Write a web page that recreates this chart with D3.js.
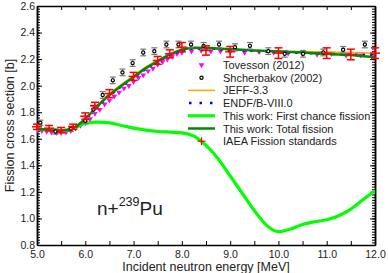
<!DOCTYPE html>
<html>
<head>
<meta charset="utf-8">
<script src="https://cdn.jsdelivr.net/npm/d3@7"></script>
<style>
  body { margin: 0; background: white; }
  text { font-family: "Liberation Sans", Arial, sans-serif; }
</style>
</head>
<body>
<div id="wrapper"></div>
<script>
// energies for the model curves [MeV]
const curveE = [5.0, 5.25, 5.5, 5.75, 6.0, 6.25, 6.5, 6.75, 7.0, 7.25, 7.5, 7.75, 8.0, 8.25, 8.5, 8.75, 9.0, 9.25, 9.5, 9.75, 10.0, 10.25, 10.5, 10.75, 11.0, 11.25, 11.5, 11.75, 12.0];
const totalFission = [1.675, 1.665, 1.66, 1.68, 1.75, 1.845, 1.93, 2.0, 2.065, 2.13, 2.185, 2.235, 2.27, 2.285, 2.285, 2.28, 2.275, 2.27, 2.265, 2.262, 2.258, 2.254, 2.25, 2.245, 2.24, 2.235, 2.23, 2.222, 2.215];
const firstChance = [1.675, 1.665, 1.66, 1.68, 1.715, 1.725, 1.72, 1.70, 1.68, 1.665, 1.655, 1.65, 1.645, 1.62, 1.55, 1.45, 1.32, 1.19, 1.06, 0.95, 0.90, 0.92, 0.955, 0.975, 0.99, 1.02, 1.07, 1.14, 1.21];
const jeff33 = [1.68, 1.67, 1.665, 1.685, 1.755, 1.85, 1.94, 2.01, 2.075, 2.14, 2.19, 2.235, 2.27, 2.28, 2.28, 2.278, 2.272, 2.268, 2.265, 2.263, 2.26, 2.258, 2.256, 2.255, 2.254, 2.252, 2.25, 2.248, 2.245];
const endf8 = [1.675, 1.665, 1.658, 1.678, 1.745, 1.84, 1.925, 1.995, 2.06, 2.125, 2.18, 2.23, 2.265, 2.28, 2.28, 2.276, 2.27, 2.266, 2.262, 2.258, 2.255, 2.25, 2.247, 2.243, 2.24, 2.237, 2.234, 2.232, 2.23];

// Tovesson (2012)
const tovE = [5.0, 5.1, 5.2, 5.3, 5.4, 5.5, 5.6, 5.7, 5.8, 5.9, 6.0, 6.1, 6.2, 6.3, 6.4, 6.5, 6.6, 6.7, 6.8, 6.9, 7.0, 7.1, 7.2, 7.3, 7.4, 7.5, 7.6, 7.7, 7.8, 7.9, 8.0, 8.2, 8.4, 8.6, 8.8, 9.0, 9.3, 9.6, 9.9, 10.2, 10.5, 10.8, 11.1, 11.4, 11.7, 12.0];
const tovXS = [1.66, 1.66, 1.655, 1.65, 1.645, 1.645, 1.65, 1.66, 1.68, 1.70, 1.72, 1.75, 1.79, 1.82, 1.86, 1.89, 1.92, 1.95, 1.98, 2.0, 2.03, 2.06, 2.08, 2.11, 2.13, 2.16, 2.18, 2.2, 2.22, 2.24, 2.25, 2.26, 2.265, 2.26, 2.26, 2.255, 2.25, 2.255, 2.25, 2.245, 2.24, 2.235, 2.24, 2.23, 2.23, 2.23];

// Shcherbakov (2002)
const shcE = [5.07, 5.38, 5.7, 6.0, 6.17, 6.36, 6.57, 6.77, 6.98, 7.2, 7.43, 7.68, 7.93, 8.19, 8.45, 8.77, 9.1, 9.41, 9.79, 10.13, 10.51, 10.93, 11.34, 11.79];
const shcXS = [1.72, 1.655, 1.675, 1.735, 1.82, 1.93, 2.04, 2.10, 2.17, 2.25, 2.26, 2.31, 2.31, 2.31, 2.3, 2.31, 2.29, 2.30, 2.26, 2.24, 2.24, 2.25, 2.27, 2.31];
const shcErr = [0.02, 0.02, 0.02, 0.02, 0.025, 0.025, 0.025, 0.025, 0.025, 0.025, 0.025, 0.025, 0.025, 0.025, 0.025, 0.025, 0.025, 0.025, 0.025, 0.025, 0.025, 0.025, 0.025, 0.025];

// IAEA fission standards
const iaeaE = [5.0, 5.25, 5.5, 5.75, 6.0, 6.2, 6.5, 7.0, 7.5, 7.75, 8.0, 8.5, 9.0, 10.0, 11.0, 11.5, 12.0];
const iaeaXS = [1.69, 1.68, 1.665, 1.69, 1.77, 1.85, 1.94, 2.07, 2.19, 2.24, 2.29, 2.265, 2.255, 2.245, 2.245, 2.235, 2.245];
const iaeaErr = [0.02, 0.02, 0.02, 0.02, 0.025, 0.025, 0.03, 0.03, 0.03, 0.03, 0.035, 0.035, 0.04, 0.04, 0.04, 0.04, 0.04];

const legendLabels = ["Tovesson (2012)", "Shcherbakov (2002)", "JEFF-3.3", "ENDF/B-VIII.0", "This work: First chance fission", "This work: Total fission", "IAEA Fission standards"];

const xTicks = [5, 6, 7, 8, 9, 10, 11, 12];
const yTicks = [0.8, 1.0, 1.2, 1.4, 1.6, 1.8, 2.0, 2.2, 2.4, 2.6];

const dimension = {
    width: 388,
    height: 273,
    margin: { top: 6, right: 13, bottom: 28, left: 37 }
};
dimension.boundedWidth  = dimension.width  - dimension.margin.left - dimension.margin.right;
dimension.boundedHeight = dimension.height - dimension.margin.top  - dimension.margin.bottom;

const svg = d3.select("#wrapper")
    .append("svg")
    .attr("width", dimension.width)
    .attr("height", dimension.height);

const g = svg.append("g")
    .attr("transform", "translate(" + dimension.margin.left + "," + dimension.margin.top + ")");

var x = d3.scaleLinear().domain([5, 12]).range([0, dimension.boundedWidth]);
var y = d3.scaleLinear().domain([0.8, 2.6]).range([dimension.boundedHeight, 0]);

g.append("clipPath").attr("id", "clip")
    .append("rect")
    .attr("width", dimension.boundedWidth)
    .attr("height", dimension.boundedHeight);

// axes, ticks pointing inward
function styleAxis(sel) {
    sel.selectAll("path").attr("stroke", "black").attr("stroke-width", 1.5);
    sel.selectAll("line").attr("stroke", "black").attr("stroke-width", 1);
    sel.selectAll("text").attr("font-size", 10.5).attr("fill", "#222");
}
const fmt = d3.format(".1f");

// bottom
g.append("g")
    .attr("transform", "translate(0," + dimension.boundedHeight + ")")
    .call(d3.axisBottom(x).tickValues(d3.range(5, 12.01, 0.5)).tickSize(-4).tickSizeOuter(0)
        .tickFormat(d => Number.isInteger(d) ? fmt(d) : ""))
    .call(styleAxis)
    .call(s => s.selectAll("text").attr("dy", "0.9em").attr("y", 4));
// top
g.append("g")
    .call(d3.axisTop(x).tickValues(d3.range(5, 12.01, 0.5)).tickSize(-4).tickSizeOuter(0).tickFormat(""))
    .call(styleAxis);
// left
g.append("g")
    .call(d3.axisLeft(y).tickValues(yTicks).tickSize(-5).tickSizeOuter(0).tickFormat(fmt))
    .call(styleAxis)
    .call(s => s.selectAll("text").attr("x", -2));
g.append("g")
    .call(d3.axisLeft(y).tickValues(d3.range(0.8, 2.601, 0.02)).tickSize(-3).tickSizeOuter(0).tickFormat(""))
    .call(styleAxis);
// right
g.append("g")
    .attr("transform", "translate(" + dimension.boundedWidth + ",0)")
    .call(d3.axisRight(y).tickValues(yTicks).tickSize(-5).tickSizeOuter(0).tickFormat(""))
    .call(styleAxis);
g.append("g")
    .attr("transform", "translate(" + dimension.boundedWidth + ",0)")
    .call(d3.axisRight(y).tickValues(d3.range(0.8, 2.601, 0.02)).tickSize(-3).tickSizeOuter(0).tickFormat(""))
    .call(styleAxis);

// axis titles
svg.append("text")
    .attr("x", dimension.margin.left + dimension.boundedWidth / 2)
    .attr("y", 271)
    .attr("text-anchor", "middle")
    .attr("font-size", 12.5)
    .attr("fill", "#222")
    .text("Incident neutron energy [MeV]");
svg.append("text")
    .attr("transform", "translate(14," + (dimension.margin.top + dimension.boundedHeight / 2) + ") rotate(-90)")
    .attr("text-anchor", "middle")
    .attr("font-size", 12.5)
    .attr("fill", "#222")
    .text("Fission cross section [b]");

const plot = g.append("g").attr("clip-path", "url(#clip)");

// Tovesson triangles
const tri = d3.symbol().type(d3.symbolTriangle).size(14);
plot.append("g")
    .selectAll("path")
    .data(tovE.map((e, i) => ({ e: e, v: tovXS[i] })))
    .enter()
    .append("path")
    .attr("d", tri)
    .attr("transform", d => "translate(" + x(d.e) + "," + y(d.v) + ") rotate(180)")
    .attr("fill", "#ff00ff");

// model curves
const line = d3.line().x(d => x(d.e)).y(d => y(d.v)).curve(d3.curveMonotoneX);
function curveData(vals) { return curveE.map((e, i) => ({ e: e, v: vals[i] })); }

plot.append("path").datum(curveData(jeff33))
    .attr("d", line).attr("fill", "none").attr("stroke", "#ffa500").attr("stroke-width", 1.5);
plot.append("path").datum(curveData(endf8))
    .attr("d", line).attr("fill", "none").attr("stroke", "#0000ff").attr("stroke-width", 2.5)
    .attr("stroke-dasharray", "2.5,5");
plot.append("path").datum(curveData(firstChance))
    .attr("d", line).attr("fill", "none").attr("stroke", "#00ff00").attr("stroke-width", 3.2);
plot.append("path").datum(curveData(totalFission))
    .attr("d", line).attr("fill", "none").attr("stroke", "#008a00").attr("stroke-width", 2.5);

// Shcherbakov points with error bars
const shc = shcE.map((e, i) => ({ e: e, v: shcXS[i], err: shcErr[i] }));
const shcG = plot.append("g").selectAll("g").data(shc).enter().append("g");
shcG.append("line")
    .attr("x1", d => x(d.e)).attr("x2", d => x(d.e))
    .attr("y1", d => y(d.v - d.err)).attr("y2", d => y(d.v + d.err))
    .attr("stroke", "#777").attr("stroke-width", 1);
shcG.append("line")
    .attr("x1", d => x(d.e) - 3).attr("x2", d => x(d.e) + 3)
    .attr("y1", d => y(d.v - d.err)).attr("y2", d => y(d.v - d.err))
    .attr("stroke", "#777").attr("stroke-width", 1.2);
shcG.append("line")
    .attr("x1", d => x(d.e) - 3).attr("x2", d => x(d.e) + 3)
    .attr("y1", d => y(d.v + d.err)).attr("y2", d => y(d.v + d.err))
    .attr("stroke", "#777").attr("stroke-width", 1.2);
shcG.append("circle")
    .attr("cx", d => x(d.e)).attr("cy", d => y(d.v)).attr("r", 1.6)
    .attr("fill", "white").attr("stroke", "black").attr("stroke-width", 1.2);

// IAEA standards (not clipped)
const iaea = iaeaE.map((e, i) => ({ e: e, v: iaeaXS[i], err: iaeaErr[i] }));
const iaeaG = g.append("g").selectAll("g").data(iaea).enter().append("g")
    .attr("stroke", "#ff0000").attr("stroke-width", 1.5);
iaeaG.append("line")
    .attr("x1", d => x(d.e)).attr("x2", d => x(d.e))
    .attr("y1", d => y(d.v - d.err)).attr("y2", d => y(d.v + d.err));
iaeaG.append("line")
    .attr("x1", d => x(d.e) - 4).attr("x2", d => x(d.e) + 4)
    .attr("y1", d => y(d.v - d.err)).attr("y2", d => y(d.v - d.err));
iaeaG.append("line")
    .attr("x1", d => x(d.e) - 4).attr("x2", d => x(d.e) + 4)
    .attr("y1", d => y(d.v + d.err)).attr("y2", d => y(d.v + d.err));
iaeaG.append("line")
    .attr("x1", d => x(d.e) - 5).attr("x2", d => x(d.e) + 5)
    .attr("y1", d => y(d.v)).attr("y2", d => y(d.v));

// legend
const leg = svg.append("g").attr("transform", "translate(188,65)");
const rowH = 12.7;
leg.selectAll("text")
    .data(legendLabels)
    .enter()
    .append("text")
    .attr("x", 35)
    .attr("y", (d, i) => i * rowH + 4)
    .attr("font-size", 11)
    .attr("fill", "#222")
    .text(d => d);
leg.append("path").attr("d", tri).attr("transform", "translate(13.5,0) rotate(180)").attr("fill", "#ff00ff");
leg.append("circle").attr("cx", 13.5).attr("cy", rowH).attr("r", 1.6)
    .attr("fill", "white").attr("stroke", "black").attr("stroke-width", 1.2);
leg.append("line").attr("x1", 0).attr("x2", 27).attr("y1", 2 * rowH).attr("y2", 2 * rowH)
    .attr("stroke", "#ffa500").attr("stroke-width", 1.5);
leg.append("line").attr("x1", 1).attr("x2", 27).attr("y1", 3 * rowH).attr("y2", 3 * rowH)
    .attr("stroke", "#0000ff").attr("stroke-width", 2.5).attr("stroke-dasharray", "2.5,8");
leg.append("line").attr("x1", 0).attr("x2", 27).attr("y1", 4 * rowH).attr("y2", 4 * rowH)
    .attr("stroke", "#00ff00").attr("stroke-width", 3.2);
leg.append("line").attr("x1", 0).attr("x2", 27).attr("y1", 5 * rowH).attr("y2", 5 * rowH)
    .attr("stroke", "#008a00").attr("stroke-width", 2.5);
leg.append("line").attr("x1", 9.5).attr("x2", 17.5).attr("y1", 6 * rowH).attr("y2", 6 * rowH)
    .attr("stroke", "#ff0000").attr("stroke-width", 1.2);
leg.append("line").attr("x1", 13.5).attr("x2", 13.5).attr("y1", 6 * rowH - 4).attr("y2", 6 * rowH + 4)
    .attr("stroke", "#ff0000").attr("stroke-width", 1.2);

// reaction label
const lab = svg.append("text")
    .attr("x", 97)
    .attr("y", 215)
    .attr("font-size", 19)
    .attr("fill", "#222");
lab.append("tspan").text("n+");
lab.append("tspan").attr("font-size", 12.5).attr("dy", -9).text("239");
lab.append("tspan").attr("dy", 9).text("Pu");
</script>
</body>
</html>
